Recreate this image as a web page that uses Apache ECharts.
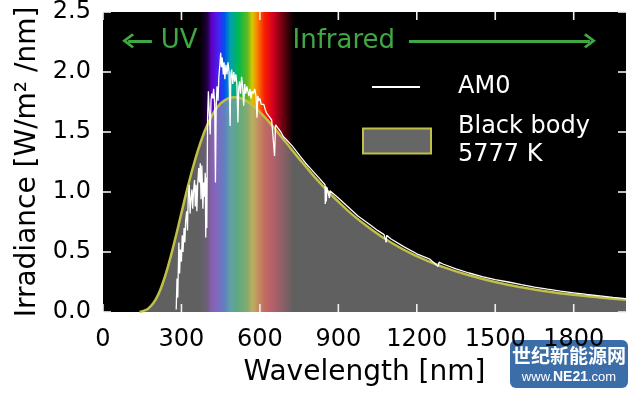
<!DOCTYPE html>
<html><head><meta charset="utf-8">
<script src="https://cdn.jsdelivr.net/npm/echarts@6/dist/echarts.min.js"></script>
<style>html,body{margin:0;padding:0;background:#fff}#c{width:634px;height:395px}</style>
</head><body><div id="c"></div>
<script>
// ---- data ----
const X_TICKS = [0, 300, 600, 900, 1200, 1500, 1800];
const Y_TICKS = [0, 0.5, 1.0, 1.5, 2.0, 2.5];

const BB_WL  = [140, 150, 160, 175, 200, 225, 250, 275, 300, 325, 350, 375, 400, 425, 450, 475, 500, 550, 600, 650, 700, 750, 800, 850, 900, 950, 1000, 1100, 1200, 1300, 1400, 1500, 1600, 1700, 1800, 1900, 2000];
const BB_VAL = [0.0, 0.007, 0.013, 0.033, 0.099, 0.219, 0.391, 0.600, 0.826, 1.049, 1.252, 1.425, 1.565, 1.668, 1.738, 1.777, 1.790, 1.755, 1.665, 1.545, 1.412, 1.278, 1.149, 1.028, 0.919, 0.818, 0.731, 0.581, 0.465, 0.376, 0.306, 0.250, 0.206, 0.171, 0.143, 0.121, 0.102];

const AM0_WL  = [280, 283, 286, 290, 293, 296, 300, 303, 306, 310, 313, 316, 320, 323, 326, 330, 333, 336, 340, 343, 346, 350, 353, 356, 359, 362, 366, 369, 372, 375, 378, 382, 385, 388, 391, 393, 395, 397, 400, 403, 406, 410, 413, 416, 420, 423, 427, 430, 433, 436, 440, 443, 447, 450, 453, 456, 460, 463, 466, 470, 474, 478, 482, 486, 489, 492, 496, 500, 504, 508, 512, 516, 519, 522, 526, 530, 534, 538, 542, 546, 550, 554, 558, 562, 566, 570, 575, 580, 585, 589, 592, 596, 600, 605, 610, 615, 620, 625, 630, 635, 640, 645, 650, 656, 660, 665, 670, 675, 680, 685, 690, 695, 700, 725, 750, 775, 800, 825, 849, 850, 852, 854, 856, 866, 868, 900, 925, 950, 975, 1000, 1025, 1050, 1075, 1083, 1085, 1100, 1150, 1200, 1250, 1282, 1285, 1300, 1350, 1400, 1450, 1500, 1550, 1600, 1650, 1700, 1750, 1800, 1850, 1900, 1950, 2000];
const AM0_VAL = [0.02, 0.28, 0.12, 0.58, 0.32, 0.52, 0.42, 0.64, 0.50, 0.70, 0.58, 0.76, 0.84, 0.68, 0.96, 1.06, 0.82, 0.93, 1.02, 0.86, 1.00, 1.10, 0.88, 1.06, 0.84, 1.06, 1.20, 1.08, 1.24, 0.94, 1.22, 0.86, 1.08, 0.96, 1.16, 0.62, 1.12, 0.70, 1.62, 1.84, 1.68, 1.48, 1.76, 1.82, 1.78, 1.86, 1.74, 1.08, 1.72, 1.88, 1.76, 1.96, 2.06, 2.16, 2.04, 2.12, 1.98, 2.08, 1.94, 2.06, 1.98, 2.08, 2.00, 1.55, 1.98, 2.02, 1.90, 2.00, 1.92, 1.98, 1.90, 1.58, 1.86, 1.92, 1.82, 1.96, 1.88, 1.72, 1.90, 1.82, 1.88, 1.84, 1.80, 1.86, 1.78, 1.84, 1.82, 1.86, 1.80, 1.62, 1.80, 1.76, 1.78, 1.73, 1.72, 1.73, 1.69, 1.66, 1.67, 1.63, 1.62, 1.60, 1.59, 1.30, 1.56, 1.55, 1.53, 1.52, 1.50, 1.49, 1.46, 1.45, 1.44, 1.38, 1.31, 1.24, 1.18, 1.12, 1.06, 0.90, 1.05, 0.92, 1.04, 0.95, 1.01, 0.95, 0.90, 0.85, 0.80, 0.76, 0.72, 0.68, 0.645, 0.58, 0.64, 0.61, 0.545, 0.485, 0.44, 0.38, 0.415, 0.40, 0.36, 0.325, 0.295, 0.27, 0.25, 0.228, 0.208, 0.19, 0.174, 0.16, 0.146, 0.134, 0.122, 0.112];

const SERIES_AM0 = 'AM0';
const SERIES_BB = 'Black body\n5777 K';

// axis extents, visible-spectrum band and annotations (data coordinates)
const X_MIN = 0, X_MAX = 2000, Y_MIN = 0, Y_MAX = 2.5;
const RAINBOW_FROM = 370, RAINBOW_TO = 730;
const ARROW_Y = 2.26;
const UV_ARROW = [187, 96];
const IR_ARROW = [1170, 1862];
const UV_TEXT_X = 291, IR_TEXT_X = 921;

// ---- chart ----
const FONT = 'DejaVu Sans';
const YEL = '#c0c048';
const GREEN = '#3fa843';
const TICKC = '#f0f0f0';
const TICK_PX = 8;
const chevron = 'path://M8,0 L16,10 L14,12 L8,4.5 L2,12 L0,10 Z';

const chart = echarts.init(document.getElementById('c'));
const pair = (xs, ys) => xs.map((x, i) => [x, ys[i]]);
const noLine = () => ({show: false, onZero: false});
const gapFmt = () => (name) => name.split('\n').map(s => '{g|}' + s).join('\n');
const xFmt = (v) => (X_TICKS.indexOf(v) >= 0 ? String(v) : '');
const yFmt = (v) => (Y_TICKS.indexOf(v) >= 0 ? v.toFixed(1) : '');

const option = {
  animation: false,
  textStyle: {fontFamily: FONT},
  grid: {left: 103, right: 8, top: 12, bottom: 83, show: true, backgroundColor: '#000', borderWidth: 0},
  xAxis: {type: 'value', min: X_MIN, max: X_MAX, interval: 300, position: 'bottom',
     axisLine: noLine(), splitLine: {show: false}, axisTick: {show: false},
     axisLabel: {fontSize: 24, color: '#000', margin: 16, fontFamily: FONT, formatter: xFmt, showMaxLabel: false},
     name: 'Wavelength [nm]', nameLocation: 'middle', nameGap: 47,
     nameTextStyle: {fontSize: 28, color: '#000', fontFamily: FONT}},
  yAxis: {type: 'value', min: Y_MIN, max: Y_MAX, interval: 0.5, position: 'left',
     axisLine: noLine(), splitLine: {show: false}, axisTick: {show: false},
     axisLabel: {fontSize: 24, color: '#000', margin: 12, fontFamily: FONT, formatter: yFmt},
     name: 'Irradiance [W/m² /nm]', nameLocation: 'middle', nameGap: 60,
     nameTextStyle: {fontSize: 28, color: '#000', fontFamily: FONT}},
  legend: [
    {data: [{name: SERIES_AM0, icon: 'rect', itemStyle: {color: '#fff'}}],
     left: 367, top: 68, itemWidth: 48, itemHeight: 2, selectedMode: false,
     formatter: gapFmt(),
     textStyle: {color: '#fff', fontSize: 24, lineHeight: 28, fontFamily: FONT, rich: {g: {width: 33}}}},
    {data: [{name: SERIES_BB, icon: 'rect', itemStyle: {color: '#666666', borderColor: YEL, borderWidth: 2}}],
     left: 357, top: 108, itemWidth: 68, itemHeight: 25, selectedMode: false,
     formatter: gapFmt(),
     textStyle: {color: '#fff', fontSize: 24, lineHeight: 28, fontFamily: FONT, rich: {g: {width: 22}}}}
  ],
  series: [
    {type: 'line', name: 'annot', data: [], z: 1, silent: true,
     markArea: {silent: true, label: {show: false},
       itemStyle: {opacity: 1, color: new echarts.graphic.LinearGradient(0, 0, 1, 0, [
         {offset: 0.0, color: '#000000'},
         {offset: 0.08, color: '#200040'},
         {offset: 0.125, color: '#6000c8'},
         {offset: 0.197, color: '#4a20f0'},
         {offset: 0.261, color: '#0050f0'},
         {offset: 0.325, color: '#00a0b0'},
         {offset: 0.411, color: '#00b850'},
         {offset: 0.506, color: '#60b820'},
         {offset: 0.558, color: '#d8c800'},
         {offset: 0.611, color: '#f88000'},
         {offset: 0.686, color: '#f82000'},
         {offset: 0.772, color: '#d80020'},
         {offset: 0.878, color: '#700010'},
         {offset: 1.0, color: '#000000'}])},
       data: [[{xAxis: RAINBOW_FROM}, {xAxis: RAINBOW_TO}]]},
     markLine: {silent: true, symbol: ['none', chevron], symbolSize: [15, 12],
       lineStyle: {color: GREEN, width: 3, type: 'solid'}, label: {show: false},
       emphasis: {disabled: true},
       data: [
         [{coord: [UV_ARROW[0], ARROW_Y]}, {coord: [UV_ARROW[1], ARROW_Y]}],
         [{coord: [IR_ARROW[0], ARROW_Y]}, {coord: [IR_ARROW[1], ARROW_Y]}]
       ]},
     markPoint: {silent: true, symbol: 'circle', symbolSize: 0,
       label: {show: true, position: 'inside', formatter: '{b}', color: GREEN, fontSize: 26, fontFamily: FONT},
       data: [{name: 'UV', coord: [UV_TEXT_X, ARROW_Y]}, {name: 'Infrared', coord: [IR_TEXT_X, ARROW_Y]}]}
    },
    {type: 'line', name: SERIES_BB, data: pair(BB_WL, BB_VAL), z: 2, smooth: true, showSymbol: false, symbol: 'none',
     color: YEL, lineStyle: {color: YEL, width: 2.5},
     areaStyle: {color: 'rgba(160,160,160,0.6)', opacity: 1}},
    {type: 'line', name: SERIES_AM0, data: pair(AM0_WL, AM0_VAL), z: 3, showSymbol: false, symbol: 'none',
     color: '#ffffff', lineStyle: {color: '#ffffff', width: 1.3}, sampling: null}
  ]
};
chart.setOption(option);

// inward tick marks on all four sides: positions come from the chart's own scales
const toPx = (x, y) => chart.convertToPixel({gridIndex: 0}, [x, y]);
const tickEls = [];
const seg = (p, dx, dy) => ({type: 'line', z: 100, silent: true,
  shape: {x1: p[0], y1: p[1], x2: p[0] + dx, y2: p[1] + dy},
  style: {stroke: TICKC, lineWidth: 1.6}});
X_TICKS.forEach(x => {
  tickEls.push(seg(toPx(x, Y_MIN), 0, -TICK_PX));
  tickEls.push(seg(toPx(x, Y_MAX), 0, TICK_PX));
});
Y_TICKS.forEach(y => {
  tickEls.push(seg(toPx(X_MIN, y), TICK_PX, 0));
  tickEls.push(seg(toPx(X_MAX, y), -TICK_PX, 0));
});
chart.setOption({graphic: tickEls.concat([
  {type: 'group', right: 6, bottom: 7, z: 100, children: [
    {type: 'rect', shape: {x: 0, y: 0, width: 118, height: 48, r: 6}, style: {fill: '#3b6ea8'}},
    {type: 'text', x: 59, y: 16, style: {text: '世纪新能源网', fill: '#fff', align: 'center', verticalAlign: 'middle',
      font: 'bold 19px "Noto Sans CJK SC"'}},
    {type: 'text', x: 59, y: 37, style: {text: '{a|www.}{b|NE21}{a|.com}', align: 'center', verticalAlign: 'middle',
      rich: {a: {fill: '#fff', fontSize: 13, fontFamily: 'Liberation Sans'}, b: {fill: '#fff', fontSize: 14, fontWeight: 'bold', fontFamily: 'Liberation Sans'}}}}
  ]}
])});
</script></body></html>
